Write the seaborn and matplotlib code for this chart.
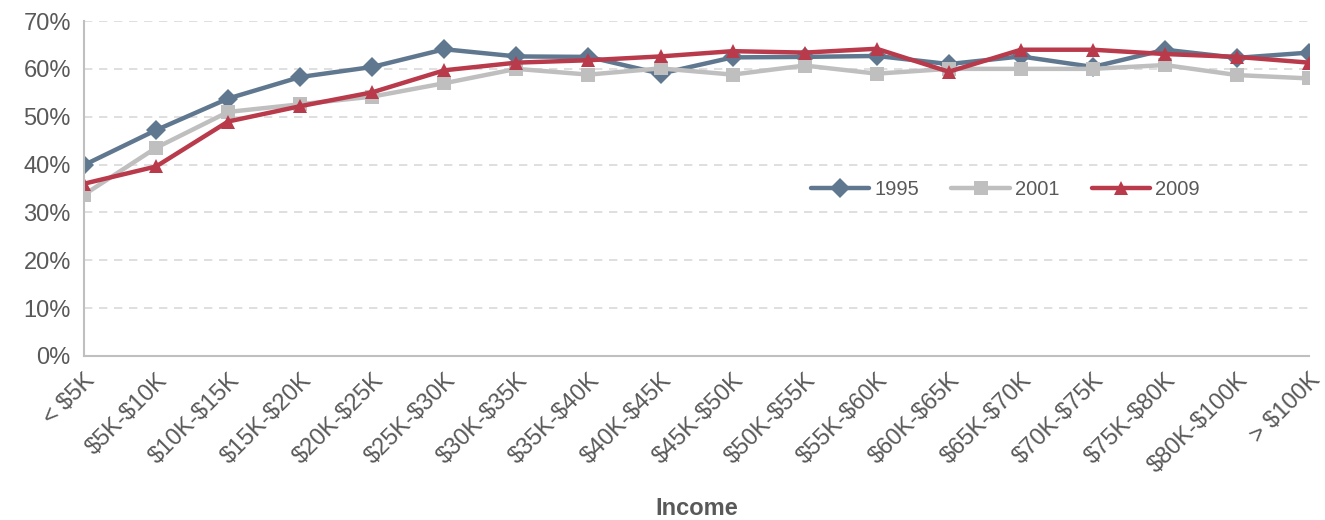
import pandas as pd
import seaborn as sns
import matplotlib.pyplot as plt
from matplotlib.ticker import PercentFormatter

# Income brackets on the x axis
incomes = ['< $5K', '$5K-$10K', '$10K-$15K', '$15K-$20K', '$20K-$25K', '$25K-$30K',
           '$30K-$35K', '$35K-$40K', '$40K-$45K', '$45K-$50K', '$50K-$55K', '$55K-$60K',
           '$60K-$65K', '$65K-$70K', '$70K-$75K', '$75K-$80K', '$80K-$100K', '> $100K']

# Share (%) for each survey year
y1995 = [39.9, 47.2, 53.8, 58.3, 60.4, 64.1, 62.6, 62.5, 59.0, 62.4, 62.5, 62.7,
         61.0, 62.6, 60.4, 64.0, 62.3, 63.4]
y2001 = [33.7, 43.5, 51.0, 52.6, 54.2, 57.0, 60.0, 58.8, 60.1, 58.8, 60.7, 59.0,
         60.0, 60.0, 60.0, 60.8, 58.7, 58.0]
y2009 = [36.0, 39.6, 49.0, 52.2, 55.1, 59.7, 61.3, 61.8, 62.6, 63.7, 63.4, 64.2,
         59.4, 64.0, 64.0, 63.1, 62.5, 61.3]

years = ['1995', '2001', '2009']
colors = {'1995': '#60788F', '2001': '#BFBFBF', '2009': '#B83A4B'}
markers = {'1995': 'D', '2001': 's', '2009': '^'}

# Long-form table for seaborn
df = pd.concat([
    pd.DataFrame({'Income': incomes, 'Share': vals, 'Year': yr})
    for yr, vals in zip(years, [y1995, y2001, y2009])
], ignore_index=True)

sns.set_style('white')
plt.rcParams['font.family'] = ['Liberation Sans', 'DejaVu Sans']
plt.rcParams['text.parse_math'] = False  # keep the $ signs literal
text_color = '#595959'

fig, ax = plt.subplots(figsize=(13.25, 5.2), dpi=100)
fig.subplots_adjust(left=0.0634, right=0.988, top=0.9596, bottom=0.3154)

sns.lineplot(data=df, x='Income', y='Share', hue='Year', style='Year',
             palette=colors, markers=markers, dashes=False, sort=False,
             linewidth=3.2, markersize=10, markeredgewidth=0, ax=ax)

ax.set_ylim(0, 70)
ax.set_xlim(0, len(incomes) - 1)
ax.set_yticks(range(0, 71, 10))
ax.yaxis.set_major_formatter(PercentFormatter(decimals=0))
ax.yaxis.grid(True, linestyle=(0, (5, 4)), color='#D9D9D9', linewidth=1.2)
ax.set_axisbelow(True)

for side in ['top', 'right']:
    ax.spines[side].set_visible(False)
for side in ['left', 'bottom']:
    ax.spines[side].set_color('#BFBFBF')
    ax.spines[side].set_linewidth(1.5)

ax.tick_params(axis='both', direction='out', length=6, width=1.5, color='#BFBFBF',
               labelsize=17, labelcolor=text_color)
plt.setp(ax.get_xticklabels(), rotation=45, ha='right', rotation_mode='anchor')

ax.set_ylabel('')
ax.set_xlabel('Income', fontsize=17, fontweight='bold', color=text_color, labelpad=14)

ax.legend(loc='center', bbox_to_anchor=(0.752, 0.496), ncol=3, frameon=False,
          fontsize=14.5, handlelength=2.9, columnspacing=1.6, handletextpad=0.25,
          labelcolor=text_color)

plt.savefig('out.png', dpi=100)
